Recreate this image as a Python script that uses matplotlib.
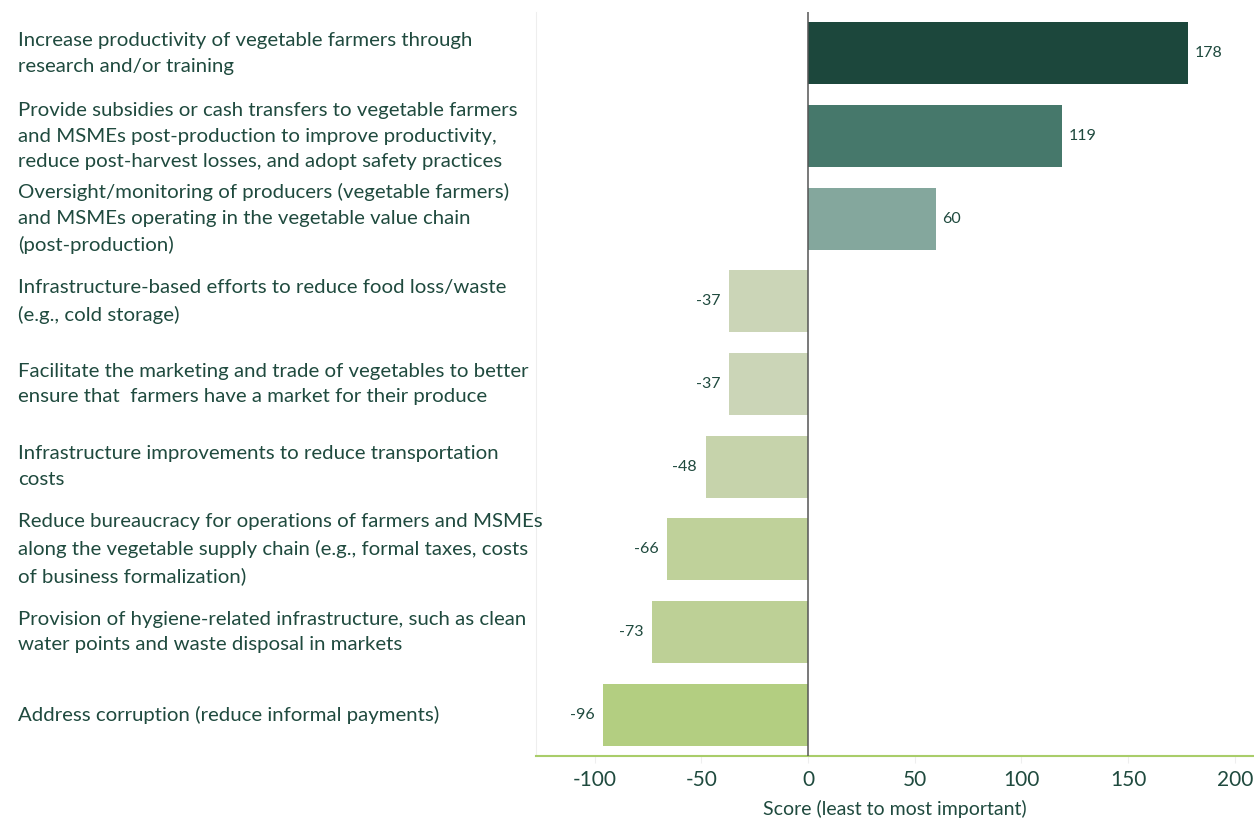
import matplotlib
matplotlib.use("Agg")
import matplotlib.pyplot as plt
import matplotlib.transforms as mtransforms

categories = [
    "Increase productivity of vegetable farmers through\nresearch and/or training",
    "Provide subsidies or cash transfers to vegetable farmers\nand MSMEs post-production to improve productivity,\nreduce post-harvest losses, and adopt safety practices",
    "Oversight/monitoring of producers (vegetable farmers)\nand MSMEs operating in the vegetable value chain\n(post-production)",
    "Infrastructure-based efforts to reduce food loss/waste\n(e.g., cold storage)",
    "Facilitate the marketing and trade of vegetables to better\nensure that  farmers have a market for their produce",
    "Infrastructure improvements to reduce transportation\ncosts",
    "Reduce bureaucracy for operations of farmers and MSMEs\nalong the vegetable supply chain (e.g., formal taxes, costs\nof business formalization)",
    "Provision of hygiene-related infrastructure, such as clean\nwater points and waste disposal in markets",
    "Address corruption (reduce informal payments)",
]
scores = [178, 119, 60, -37, -37, -48, -66, -73, -96]
bar_colors = ["#1c473c", "#46786b", "#84a79d", "#cbd5b7", "#cbd5b7",
              "#c6d3ab", "#bfd19a", "#bdd096", "#b3ce81"]
xticks = [-100, -50, 0, 50, 100, 150, 200]

text_color = "#1f4a3e"
plt.rcParams["font.family"] = ["Lato", "DejaVu Sans"]

fig = plt.figure(figsize=(12.54, 8.22), dpi=100)
ax = fig.add_axes([0.4274, 0.0803, 0.5726, 0.905])

ypos = list(range(len(categories)))
ax.barh(ypos, scores, height=0.75, color=bar_colors, zorder=2)
ax.set_ylim(len(categories) - 0.5, -0.5)
ax.set_xlim(-127.5, 209)

ax.axvline(0, color="#555555", lw=1.1, zorder=3)

# value labels beside each bar
for y, v in zip(ypos, scores):
    if v >= 0:
        ax.text(v + 3, y, f"{v}", va="center", ha="left", fontsize=11.5, color=text_color)
    else:
        ax.text(v - 4, y, f"{v}", va="center", ha="right", fontsize=11.5, color=text_color)

# category labels, left-aligned near the figure edge
ax.set_yticks([])
label_tr = mtransforms.blended_transform_factory(fig.transFigure, ax.transData)
for y, lab in zip(ypos, categories):
    ax.text(18 / 1254, y, lab, transform=label_tr, va="center", ha="left",
            fontsize=14.7, color=text_color, linespacing=1.63)

ax.set_xticks(xticks)
ax.set_xticklabels([str(t) for t in xticks], fontsize=15, color=text_color)
ax.tick_params(axis="x", length=5, color="#eeeeee", pad=5)
ax.set_xlabel("Score (least to most important)", fontsize=14, color=text_color, labelpad=7)

for s in ["top", "right"]:
    ax.spines[s].set_visible(False)
ax.spines["left"].set_color("#eeeeee")
ax.spines["bottom"].set_color("#a9cd6a")
ax.spines["bottom"].set_linewidth(1.5)

fig.savefig("out.png", dpi=100)
